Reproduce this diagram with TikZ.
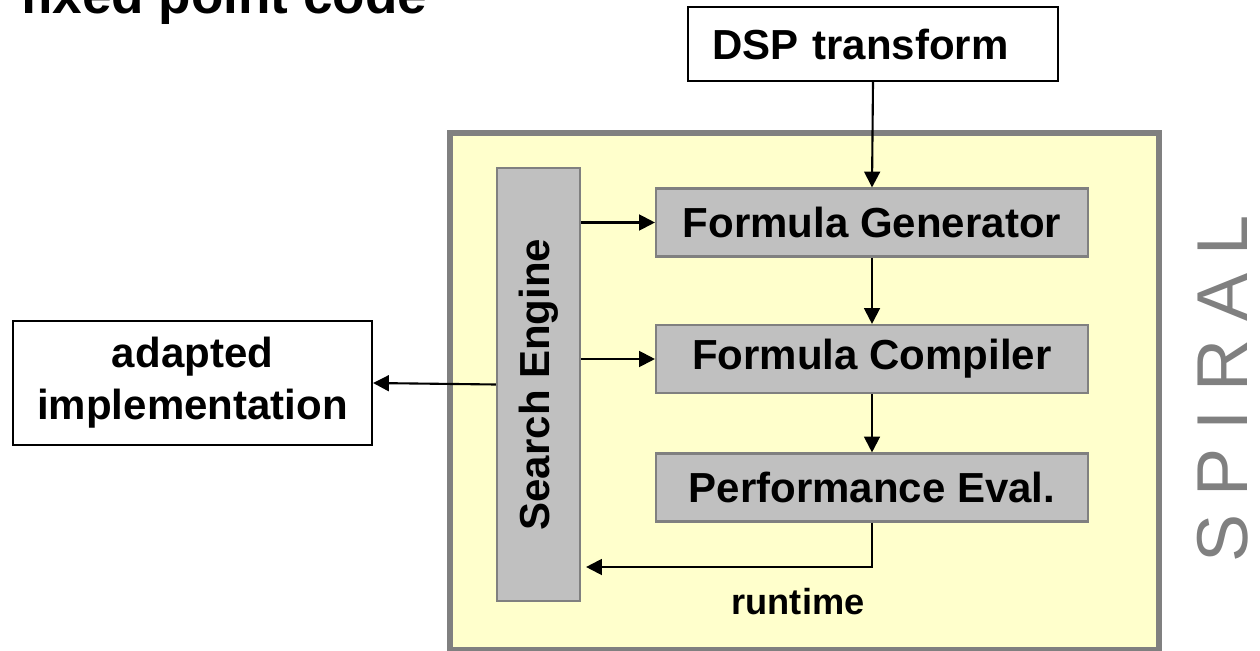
\documentclass[tikz,border=0pt]{standalone}
\usepackage{fontspec}
\setmainfont{Liberation Sans}
\usetikzlibrary{arrows.meta,positioning,calc}
\definecolor{PaleYel}{HTML}{FFFFCC}
\definecolor{BoxGray}{HTML}{C0C0C0}
\definecolor{EdgeGray}{HTML}{808080}

\begin{document}
\begin{tikzpicture}[
  io/.style={rectangle, draw=black, line width=1.2pt, fill=white, align=center,
             font=\fontsize{23.9}{29.6}\selectfont\bfseries},
  proc/.style={rectangle, draw=EdgeGray, line width=1.2pt, fill=BoxGray,
               minimum width=8.64cm, minimum height=1.36cm,
               font=\fontsize{23.9}{29.6}\selectfont\bfseries},
  frame/.style={rectangle, draw=EdgeGray, fill=PaleYel, line width=3.1pt},
  arr/.style={-{Triangle[length=9pt,width=9pt]}, line width=1.2pt}
]
\useasboundingbox (0,0) rectangle (25.2,-13.02);

% title, cut off by the page top
\node[anchor=base west, inner sep=0pt, font=\fontsize{30.2}{36}\selectfont\bfseries] (title) at (0.4,-0.28) {fixed point code};

% the SPIRAL system
\node[frame, minimum width=14.18cm, minimum height=10.33cm] (spiral) at (16.09,-7.825) {};
\node[rotate=90, inner sep=0pt, text=EdgeGray, font=\fontsize{41}{41}\selectfont\addfontfeature{LetterSpace=25}] (logo) at (24.46,-7.78) {SPIRAL};

\node[io, minimum width=7.4cm, minimum height=1.48cm, text width=6.44cm, inner xsep=0.48cm, align=left] (dsp) at (17.46,-0.88) {DSP transform};
\node[proc] (fgen) at (17.44,-4.45) {Formula Generator};
\node[proc] (fcomp) at (17.44,-7.18) {Formula Compiler};
\node[proc] (perf) at (17.44,-9.75) {Performance Eval.};
\node[proc, minimum width=1.66cm, minimum height=8.66cm] (search) at (10.77,-7.69) {\rotatebox{90}{Search Engine}};
\node[io, minimum width=7.18cm, minimum height=2.48cm] (adapt) at (3.85,-7.66) {adapted\\implementation};
\node[font=\fontsize{20.6}{24}\selectfont\bfseries] (rt) at (15.96,-12.04) {runtime};

\draw[arr] (dsp.south) -- (fgen.north);
\draw[arr] (fgen) -- (fcomp);
\draw[arr] (fcomp) -- (perf);
\draw[arr] (search.east |- fgen.west) -- (fgen.west);
\draw[arr] (search.east |- fcomp.west) -- (fcomp.west);
\draw[arr] (search.west) -- (adapt.east);
\coordinate (back) at ($(search.east)+(0.1,-3.65)$);
\draw[arr] (perf.south) |- (back);
\end{tikzpicture}
\end{document}
